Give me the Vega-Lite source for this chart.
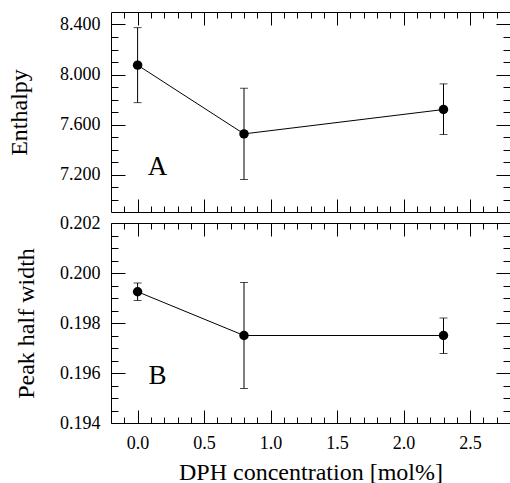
{
  "$schema": "https://vega.github.io/schema/vega-lite/v6.json",
  "padding": {"left": 7, "top": 11, "right": 0, "bottom": 0},
  "background": "white",
  "spacing": 0,
  "config": {
    "view": {"stroke": "black", "strokeWidth": 1},
    "axis": {
      "domain": false, "grid": false, "tickColor": "black", "tickWidth": 1,
      "labelFont": "Liberation Serif", "labelFontSize": 18, "labelColor": "black",
      "titleFont": "Liberation Serif", "titleFontSize": 24, "titleFontWeight": "normal", "titleColor": "black"
    }
  },
  "vconcat": [
    {
      "width": 399, "height": 200,
      "data": {"values": [
        {"x": 0, "y": 8.075, "lo": 7.775, "hi": 8.375},
        {"x": 0.8, "y": 7.525, "lo": 7.16, "hi": 7.89},
        {"x": 2.3, "y": 7.72, "lo": 7.52, "hi": 7.925}
      ]},
      "layer": [
        {"mark": {"type": "line", "color": "black", "strokeWidth": 1},
         "encoding": {
           "x": {"field": "x", "type": "quantitative", "scale": {"domain": [-0.2, 2.8], "nice": false, "zero": false},
                 "axis": {"orient": "bottom", "values": [0, 0.5, 1, 1.5, 2, 2.5], "labels": false, "tickSize": -13, "title": null}},
           "y": {"field": "y", "type": "quantitative", "scale": {"domain": [6.9, 8.5], "nice": false, "zero": false},
                 "axis": {"orient": "left", "values": [7.2, 7.6, 8.0, 8.4], "format": ".3f", "tickSize": -14, "labelPadding": 25, "title": "Enthalpy", "titlePadding": 28}}
         }},
        {"mark": {"type": "rule", "color": "black", "strokeWidth": 1},
         "encoding": {
           "x": {"field": "x", "type": "quantitative", "axis": {"orient": "top", "values": [0, 0.5, 1, 1.5, 2, 2.5], "labels": false, "tickSize": -13, "title": null}},
           "y": {"field": "lo", "type": "quantitative", "axis": {"orient": "right", "values": [7.2, 7.6, 8.0, 8.4], "labels": false, "tickSize": -14, "title": null}},
           "y2": {"field": "hi"}
         }},
        {"mark": {"type": "tick", "orient": "horizontal", "color": "black", "size": 8, "thickness": 1},
         "encoding": {
           "x": {"field": "x", "type": "quantitative", "axis": {"orient": "bottom", "values": [-0.1, 0.1, 0.2, 0.3, 0.4, 0.6, 0.7, 0.8, 0.9, 1.1, 1.2, 1.3, 1.4, 1.6, 1.7, 1.8, 1.9, 2.1, 2.2, 2.3, 2.4, 2.6, 2.7], "labels": false, "tickSize": -6, "title": null}},
           "y": {"field": "lo", "type": "quantitative", "axis": {"orient": "left", "values": [7.0, 7.1, 7.3, 7.4, 7.5, 7.7, 7.8, 7.9, 8.1, 8.2, 8.3], "labels": false, "tickSize": -7, "title": null}}
         }},
        {"mark": {"type": "tick", "orient": "horizontal", "color": "black", "size": 8, "thickness": 1},
         "encoding": {
           "x": {"field": "x", "type": "quantitative", "axis": {"orient": "top", "values": [-0.1, 0.1, 0.2, 0.3, 0.4, 0.6, 0.7, 0.8, 0.9, 1.1, 1.2, 1.3, 1.4, 1.6, 1.7, 1.8, 1.9, 2.1, 2.2, 2.3, 2.4, 2.6, 2.7], "labels": false, "tickSize": -6, "title": null}},
           "y": {"field": "hi", "type": "quantitative", "axis": {"orient": "right", "values": [7.0, 7.1, 7.3, 7.4, 7.5, 7.7, 7.8, 7.9, 8.1, 8.2, 8.3], "labels": false, "tickSize": -7, "title": null}}
         }},
        {"mark": {"type": "point", "filled": true, "color": "black", "opacity": 1, "size": 90},
         "encoding": {
           "x": {"field": "x", "type": "quantitative", "axis": null},
           "y": {"field": "y", "type": "quantitative", "axis": null}
         }},
        {"data": {"values": [{"x": 0.15, "y": 7.26, "t": "A"}]},
         "mark": {"type": "text", "font": "Liberation Serif", "fontSize": 27, "color": "black", "align": "center", "baseline": "middle"},
         "encoding": {
           "x": {"field": "x", "type": "quantitative", "axis": null},
           "y": {"field": "y", "type": "quantitative", "axis": null},
           "text": {"field": "t"}
         }}
      ],
      "resolve": {"axis": {"x": "independent", "y": "independent"}}
    },
    {
      "width": 399, "height": 200,
      "data": {"values": [
        {"x": 0, "y": 0.19925, "lo": 0.1989, "hi": 0.1996},
        {"x": 0.8, "y": 0.1975, "lo": 0.19538, "hi": 0.19962},
        {"x": 2.3, "y": 0.1975, "lo": 0.19678, "hi": 0.1982}
      ]},
      "layer": [
        {"mark": {"type": "line", "color": "black", "strokeWidth": 1},
         "encoding": {
           "x": {"field": "x", "type": "quantitative", "scale": {"domain": [-0.2, 2.8], "nice": false, "zero": false},
                 "axis": {"orient": "bottom", "values": [0, 0.5, 1, 1.5, 2, 2.5], "format": ".1f", "tickSize": -13, "labelPadding": 24, "title": "DPH concentration [mol%]", "titlePadding": 8}},
           "y": {"field": "y", "type": "quantitative", "scale": {"domain": [0.194, 0.202], "nice": false, "zero": false},
                 "axis": {"orient": "left", "values": [0.194, 0.196, 0.198, 0.2, 0.202], "format": ".3f", "tickSize": -14, "labelPadding": 25, "title": "Peak half width", "titlePadding": 21}}
         }},
        {"mark": {"type": "rule", "color": "black", "strokeWidth": 1},
         "encoding": {
           "x": {"field": "x", "type": "quantitative", "axis": {"orient": "top", "values": [0, 0.5, 1, 1.5, 2, 2.5], "labels": false, "tickSize": -13, "title": null}},
           "y": {"field": "lo", "type": "quantitative", "axis": {"orient": "right", "values": [0.194, 0.196, 0.198, 0.2, 0.202], "labels": false, "tickSize": -14, "title": null}},
           "y2": {"field": "hi"}
         }},
        {"mark": {"type": "tick", "orient": "horizontal", "color": "black", "size": 8, "thickness": 1},
         "encoding": {
           "x": {"field": "x", "type": "quantitative", "axis": {"orient": "bottom", "values": [-0.1, 0.1, 0.2, 0.3, 0.4, 0.6, 0.7, 0.8, 0.9, 1.1, 1.2, 1.3, 1.4, 1.6, 1.7, 1.8, 1.9, 2.1, 2.2, 2.3, 2.4, 2.6, 2.7], "labels": false, "tickSize": -6, "title": null}},
           "y": {"field": "lo", "type": "quantitative", "axis": {"orient": "left", "values": [0.1945, 0.195, 0.1955, 0.1965, 0.197, 0.1975, 0.1985, 0.199, 0.1995, 0.2005, 0.201, 0.2015], "labels": false, "tickSize": -7, "title": null}}
         }},
        {"mark": {"type": "tick", "orient": "horizontal", "color": "black", "size": 8, "thickness": 1},
         "encoding": {
           "x": {"field": "x", "type": "quantitative", "axis": {"orient": "top", "values": [-0.1, 0.1, 0.2, 0.3, 0.4, 0.6, 0.7, 0.8, 0.9, 1.1, 1.2, 1.3, 1.4, 1.6, 1.7, 1.8, 1.9, 2.1, 2.2, 2.3, 2.4, 2.6, 2.7], "labels": false, "tickSize": -6, "title": null}},
           "y": {"field": "hi", "type": "quantitative", "axis": {"orient": "right", "values": [0.1945, 0.195, 0.1955, 0.1965, 0.197, 0.1975, 0.1985, 0.199, 0.1995, 0.2005, 0.201, 0.2015], "labels": false, "tickSize": -7, "title": null}}
         }},
        {"mark": {"type": "point", "filled": true, "color": "black", "opacity": 1, "size": 90},
         "encoding": {
           "x": {"field": "x", "type": "quantitative", "axis": null},
           "y": {"field": "y", "type": "quantitative", "axis": null}
         }},
        {"data": {"values": [{"x": 0.15, "y": 0.19588, "t": "B"}]},
         "mark": {"type": "text", "font": "Liberation Serif", "fontSize": 27, "color": "black", "align": "center", "baseline": "middle"},
         "encoding": {
           "x": {"field": "x", "type": "quantitative", "axis": null},
           "y": {"field": "y", "type": "quantitative", "axis": null},
           "text": {"field": "t"}
         }}
      ],
      "resolve": {"axis": {"x": "independent", "y": "independent"}}
    }
  ]
}
